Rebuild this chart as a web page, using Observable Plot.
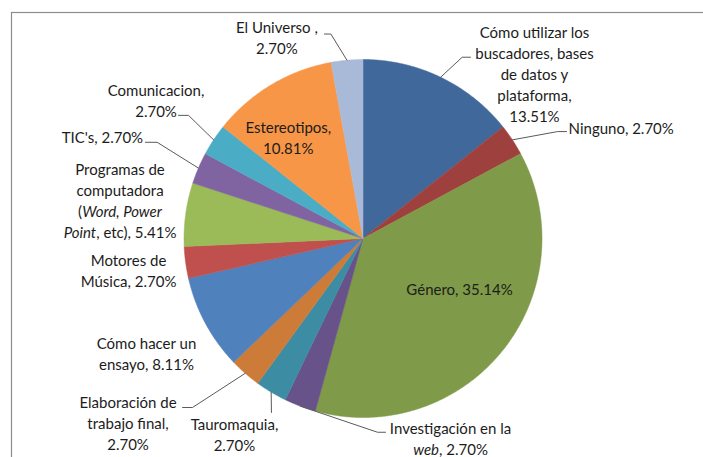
<!DOCTYPE html>
<html>
<head>
<meta charset="utf-8">
<script src="https://cdn.jsdelivr.net/npm/d3@7"></script>
<script src="https://cdn.jsdelivr.net/npm/@observablehq/plot@0.6"></script>
<style>
  html, body { margin: 0; padding: 0; background: #fff; overflow: hidden; }
  #chart svg { display: block; overflow: hidden; }
</style>
</head>
<body>
<div id="chart"></div>
<script>
// ---- data ----
const categories = [
  "Cómo utilizar los buscadores, bases de datos y plataforma",
  "Ninguno",
  "Género",
  "Investigación en la web",
  "Tauromaquia",
  "Elaboración de trabajo final",
  "Cómo hacer un ensayo",
  "Motores de Música",
  "Programas de computadora (Word, Power Point, etc)",
  "TIC's",
  "Comunicacion",
  "Estereotipos",
  "El Universo"
];
const values = [13.51, 2.70, 35.14, 2.70, 2.70, 2.70, 8.11, 2.70, 5.41, 2.70, 2.70, 10.81, 2.70];
// label text (line breaks as in the original; *...* = italic)
const labelHeads = [
  "Cómo utilizar los\nbuscadores, bases\nde datos y\nplataforma,\n",
  "Ninguno, ",
  "Género, ",
  "Investigación en la\n*web*, ",
  "Tauromaquia,\n",
  "Elaboración de\ntrabajo final,\n",
  "Cómo hacer un\nensayo, ",
  "Motores de\nMúsica, ",
  "Programas de\ncomputadora\n(*Word, Power*\n*Point*, etc), ",
  "TIC's, ",
  "Comunicacion,\n",
  "Estereotipos,\n",
  "El Universo ,\n"
];

// ---- styles ----
const colors = ["#41689B", "#9E413E", "#7F9A48", "#67538A", "#3C8DA3", "#CC7B38",
  "#4F81BD", "#C0504D", "#9BBB59", "#8064A2", "#4BACC6", "#F79646", "#A9BAD8"];

// ---- layout ----
const W = 703, H = 457;
const CX = 362.5, CY = 238, R = 179;
// label block offsets relative to the slice's edge point at its mid-angle
// [dx, dy, anchor, leader points (offsets) or null]
const labelLayout = [
  [93.8, -4.2, "middle", [[21.5, -20], [29.8, -20]]],
  [56.2, -12.3, "start", [[45.2, -8.3], [54.2, -8.3]]],
  [-43.4, -61.6, "middle", null],
  [150.5, 32, "middle", [[77.5, 26.2], [85.5, 26.2]]],
  [-36.7, 41.3, "middle", [[0.3, 20.3]]],
  [-117.2, 49.2, "middle", [[-52.7, 34.2], [-62.7, 34.2]]],
  [-58.9, 29.7, "middle", null],
  [-57.1, 7.5, "middle", null],
  [-65.6, -15, "middle", null],
  [-96, -31.5, "middle", [[-41.3, -25.8], [-53, -25.8]]],
  [-57.6, -40, "middle", [[-25.1, -24.5], [-35.1, -24.5]]],
  [17.1, 52.3, "middle", null],
  [-70.1, -23.7, "middle", [[-16.1, -26.2], [-22.6, -26.2]]]
];

const data = categories.map((c, i) => ({category: c, value: values[i], i}));
const arcs = d3.pie().sort(null).value(d => d.value).startAngle(0).endAngle(2 * Math.PI)(data);

const px = a => CX + R * Math.sin(a);
const py = a => CY - R * Math.cos(a);

// slice outlines
const sliceRows = [];
for (const a of arcs) {
  const n = Math.max(2, Math.ceil((a.endAngle - a.startAngle) / (Math.PI / 360)));
  sliceRows.push({category: a.data.category, x: CX, y: CY});
  for (let k = 0; k <= n; k++) {
    const t = a.startAngle + (a.endAngle - a.startAngle) * k / n;
    sliceRows.push({category: a.data.category, x: px(t), y: py(t)});
  }
  sliceRows.push({category: a.data.category, x: CX, y: CY});
}

// labels + leaders
const labelRows = [];
const leaderRows = [];
arcs.forEach((a, i) => {
  const mid = (a.startAngle + a.endAngle) / 2;
  const ex = px(mid), ey = py(mid);
  const [dx, dy, anchor, leader] = labelLayout[i];
  labelRows.push({
    x: ex + dx, y: ey + dy, anchor,
    text: labelHeads[i] + a.data.value.toFixed(2) + "%"
  });
  if (leader) {
    leaderRows.push({id: i, x: ex, y: ey});
    for (const [lx, ly] of leader) leaderRows.push({id: i, x: ex + lx, y: ey + ly});
  }
});

const textOpts = {
  x: "x", y: "y", text: "text",
  fontSize: 15, fontFamily: "Lato, 'Open Sans', sans-serif",
  fill: "#1c1c1c", lineHeight: 1.4, lineAnchor: "middle"
};

const plot = Plot.plot({
  width: W, height: H,
  margin: 0,
  x: {domain: [0, W], range: [0, W], axis: null},
  y: {domain: [0, H], range: [0, H], axis: null},
  color: {domain: categories, range: colors},
  style: {background: "#fff"},
  marks: [
    Plot.frame({stroke: "#8c8c8c", strokeWidth: 1.2, insetLeft: 11, insetTop: 12, insetRight: -5, insetBottom: -5}),
    Plot.line(sliceRows, {x: "x", y: "y", z: "category", fill: "category", stroke: "category", strokeWidth: 0.5, curve: "linear"}),
    Plot.line(leaderRows, {x: "x", y: "y", z: "id", stroke: "#5a5a5a", strokeWidth: 1, curve: "linear"}),
    Plot.text(labelRows.filter(d => d.anchor === "middle"), {...textOpts, textAnchor: "middle"}),
    Plot.text(labelRows.filter(d => d.anchor === "start"), {...textOpts, textAnchor: "start"})
  ]
});

// italic segments marked with *...*
const walker = document.createTreeWalker(plot, NodeFilter.SHOW_TEXT);
const textNodes = [];
while (walker.nextNode()) if (walker.currentNode.nodeValue.includes("*")) textNodes.push(walker.currentNode);
for (const node of textNodes) {
  const parts = node.nodeValue.split("*");
  const parent = node.parentNode;
  parts.forEach((p, k) => {
    if (!p) return;
    const ts = document.createElementNS("http://www.w3.org/2000/svg", "tspan");
    if (k % 2 === 1) ts.setAttribute("font-style", "italic");
    ts.textContent = p;
    parent.insertBefore(ts, node);
  });
  parent.removeChild(node);
}

document.getElementById("chart").appendChild(plot);
</script>
</body>
</html>
